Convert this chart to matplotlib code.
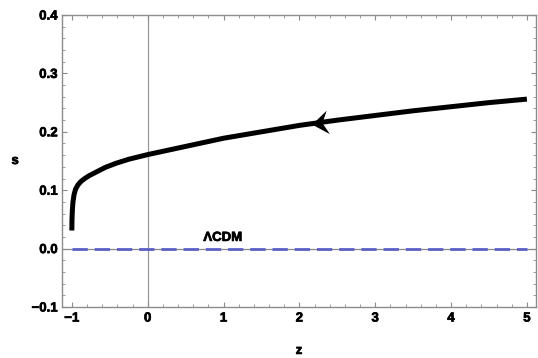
import numpy as np
import matplotlib
matplotlib.use("Agg")
import matplotlib.pyplot as plt
import matplotlib.patheffects as pe
from matplotlib.markers import MarkerStyle
from matplotlib.path import Path
from matplotlib.transforms import Affine2D
from matplotlib.ticker import MultipleLocator, FuncFormatter
from matplotlib import font_manager

# curve s(z)
z_vals = [-1.0, -0.998, -0.993, -0.985, -0.97, -0.95, -0.92, -0.88, -0.83, -0.77,
          -0.68, -0.56, -0.42, -0.25, 0.0, 0.25, 0.5, 0.75, 1.0, 1.5, 2.0,
          2.5, 3.0, 3.5, 4.0, 4.5, 5.0]
s_vals = [0.031, 0.05, 0.066, 0.08, 0.093, 0.102, 0.109, 0.115, 0.120, 0.125,
          0.131, 0.139, 0.146, 0.153, 0.161, 0.168, 0.175, 0.182, 0.189, 0.200, 0.211,
          0.220, 0.228, 0.236, 0.243, 0.250, 0.256]

# LambdaCDM reference line
lcdm_z = [-1.0, 5.0]
lcdm_s = [0.0, 0.0]
lcdm_label = "\u039bCDM"

arrow_z = 2.27

bold = font_manager.FontProperties(family=['Liberation Sans', 'DejaVu Sans'],
                                   weight='bold', size=9.5)
thick = [pe.withStroke(linewidth=0.5, foreground='black')]

fig = plt.figure(figsize=(5.38, 3.58), dpi=100)
ax = fig.add_axes([0.1152, 0.1425, 0.8811, 0.8155])

frame = '#8c8c8c'
ax.axvline(0, color='#999999', lw=0.9, zorder=1)
ax.axhline(0, color='#888888', lw=0.9, zorder=1)
ax.plot(lcdm_z, lcdm_s, color='#5b60c8', lw=2, dashes=(5.5, 2.5), zorder=2)
ax.text(0.99, 0.008, lcdm_label, ha='center', va='bottom', fontproperties=bold,
        path_effects=thick)

ax.plot(z_vals, s_vals, color='black', lw=3.6, solid_capstyle='butt', zorder=3)

# arrowhead marker (swept back, pointing left)
verts = [(-8.5, 0), (8, 12), (2, 0), (8, -12), (-8.5, 0)]
codes = [Path.MOVETO, Path.LINETO, Path.LINETO, Path.LINETO, Path.CLOSEPOLY]
head = MarkerStyle(Path(verts, codes), transform=Affine2D().rotate_deg(8))
ax.plot([arrow_z], [np.interp(arrow_z, z_vals, s_vals)], marker=head,
        markersize=17, color='black', markeredgewidth=0, linestyle='none', zorder=4)

ax.set_xlim(-1.13, 5.12)
ax.set_ylim(-0.1, 0.4)
ax.xaxis.set_major_locator(MultipleLocator(1))
ax.xaxis.set_minor_locator(MultipleLocator(0.2))
ax.yaxis.set_major_locator(MultipleLocator(0.1))
ax.yaxis.set_minor_locator(MultipleLocator(0.02))
ax.xaxis.set_major_formatter(FuncFormatter(lambda v, p: f"{v:.0f}".replace('-', '\u2212')))
ax.yaxis.set_major_formatter(FuncFormatter(lambda v, p: f"{v:.1f}".replace('-', '\u2212')))

for sp in ax.spines.values():
    sp.set_color(frame)
    sp.set_linewidth(1)
ax.tick_params(which='both', direction='in', top=True, right=True, color=frame,
               labelcolor='black')
ax.tick_params(which='major', length=3.5, width=0.8)
ax.tick_params(which='minor', length=2, width=0.6)
ax.tick_params(axis='x', pad=4)
ax.tick_params(axis='y', pad=3)

ax.set_xlabel('z', fontproperties=bold, path_effects=thick)
ax.set_ylabel('s', fontproperties=bold, rotation=0, va='center', path_effects=thick)
ax.xaxis.set_label_coords(0.5, -0.13)
ax.yaxis.set_label_coords(-0.099, 0.5)

fig.canvas.draw()
for lab in ax.get_xticklabels() + ax.get_yticklabels():
    lab.set_fontproperties(bold)
    lab.set_path_effects(thick)

fig.savefig('out.png', dpi=100)
